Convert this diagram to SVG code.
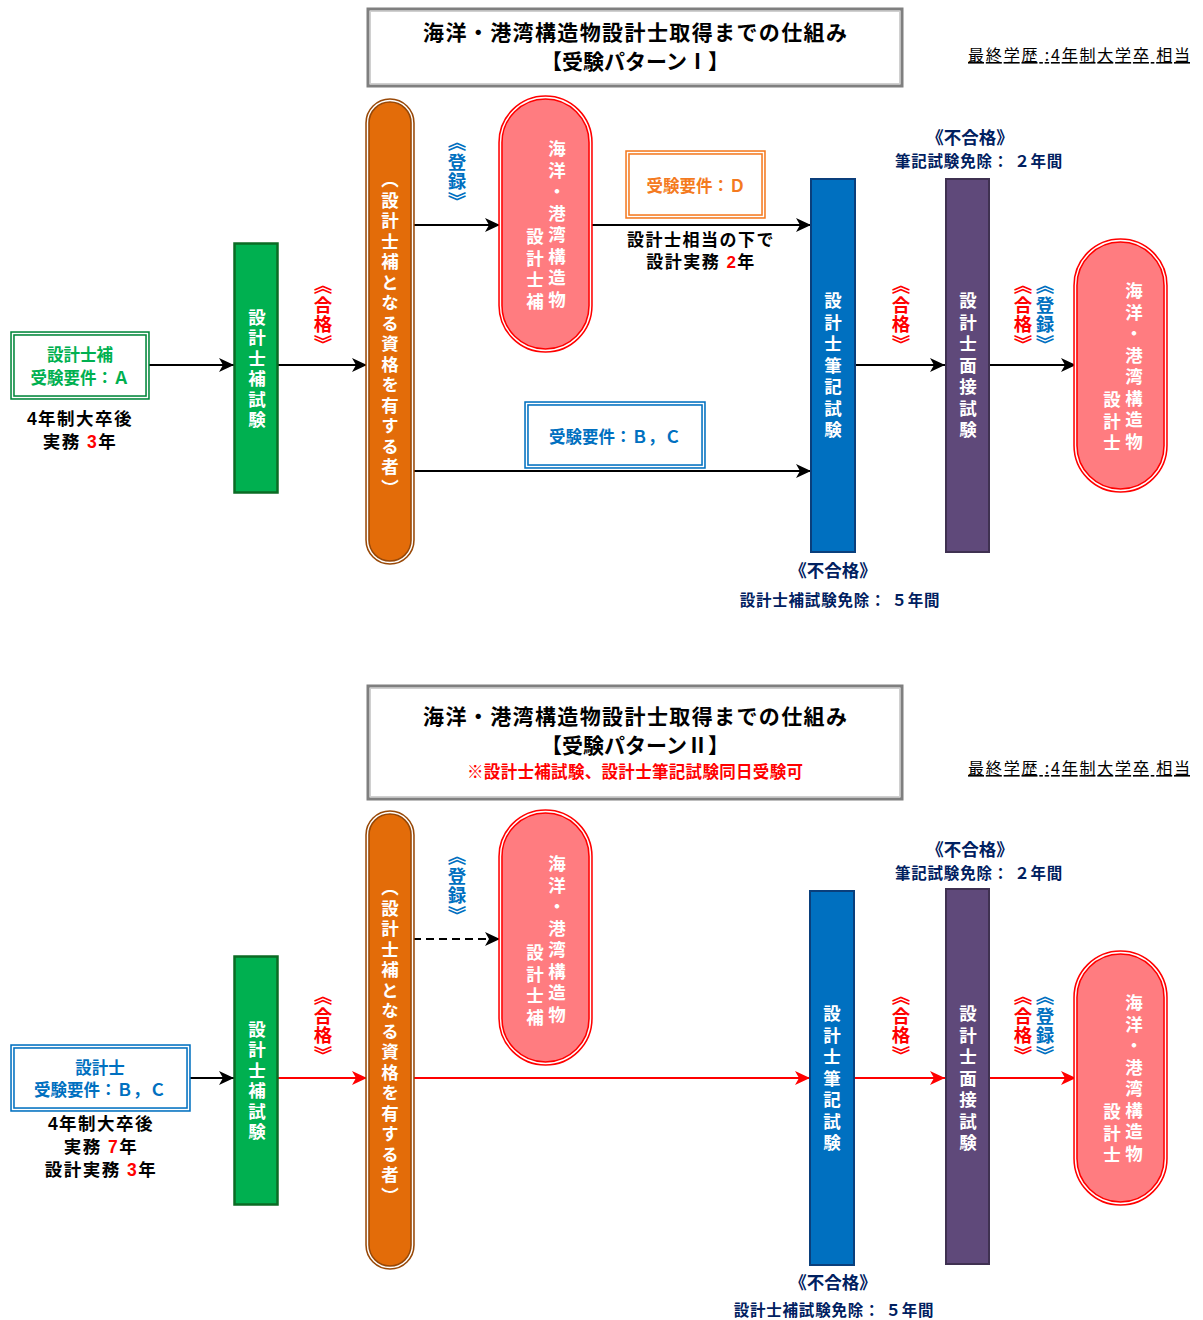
<svg xmlns="http://www.w3.org/2000/svg" width="1203" height="1320" viewBox="0 0 1203 1320">
<style>
text { font-family: "Liberation Sans", "Noto Sans CJK JP", sans-serif; font-weight: bold; }
.v { writing-mode: vertical-rl; text-anchor: middle; font-family: "Noto Sans CJK JP", sans-serif; }
.c { text-anchor: middle; }
.w { fill: #FFFFFF; }
.red { fill: #FF0000; }
.blue { fill: #0070C0; }
.navy { fill: #002060; }
.blk { fill: #000000; }
.ttl { font-size: 21px; fill: #000; text-anchor: middle; font-family: "Noto Sans CJK JP", sans-serif; }
.edu { font-size: 16px; font-weight: normal; fill: #000; text-decoration: underline; font-family: "Noto Sans CJK JP", sans-serif; }
.ln { stroke: #000; stroke-width: 2; fill: none; }
.lnr { stroke: #FF0000; stroke-width: 2; fill: none; }
.gap { fill: none; stroke: #FFFFFF; stroke-width: 1.4; }
</style>
<defs>
<marker id="ab" markerUnits="userSpaceOnUse" markerWidth="16" markerHeight="14" refX="15" refY="7" orient="auto"><path d="M0,0 L15,7 L0,14 L4,7 Z" fill="#000"/></marker>
<marker id="ar" markerUnits="userSpaceOnUse" markerWidth="16" markerHeight="14" refX="15" refY="7" orient="auto"><path d="M0,0 L15,7 L0,14 L4,7 Z" fill="#FF0000"/></marker>
</defs>
<rect width="1203" height="1320" fill="#FFFFFF"/>

<!-- ===== connectors ===== -->
<g id="connectors">
<line class="ln" x1="148" y1="365" x2="234" y2="365" marker-end="url(#ab)"/>
<line class="ln" x1="278" y1="365" x2="367" y2="365" marker-end="url(#ab)"/>
<line class="ln" x1="413" y1="225" x2="500" y2="225" marker-end="url(#ab)"/>
<line class="ln" x1="591" y1="225" x2="811" y2="225" marker-end="url(#ab)"/>
<line class="ln" x1="413" y1="471" x2="811" y2="471" marker-end="url(#ab)"/>
<line class="ln" x1="855" y1="365" x2="945" y2="365" marker-end="url(#ab)"/>
<line class="ln" x1="989" y1="365" x2="1076" y2="365" marker-end="url(#ab)"/>

<line class="ln" x1="189" y1="1078" x2="234" y2="1078" marker-end="url(#ab)"/>
<line class="lnr" x1="278" y1="1078" x2="367" y2="1078" marker-end="url(#ar)"/>
<line class="ln" x1="413" y1="939" x2="500" y2="939" stroke-dasharray="8,5" marker-end="url(#ab)"/>
<line class="lnr" x1="413" y1="1078" x2="810" y2="1078" marker-end="url(#ar)"/>
<line class="lnr" x1="854" y1="1078" x2="945" y2="1078" marker-end="url(#ar)"/>
<line class="lnr" x1="989" y1="1078" x2="1076" y2="1078" marker-end="url(#ar)"/>
</g>

<!-- ===== Pattern I ===== -->
<g id="title1">
<rect x="368" y="9" width="534" height="77" fill="#FFFFFF" stroke="#7F7F7F" stroke-width="3"/>
<rect x="370.5" y="11.5" width="529" height="72" fill="none" stroke="#D0D0D0" stroke-width="1"/>
<text class="ttl" x="635" y="40" textLength="424" lengthAdjust="spacing">海洋・港湾構造物設計士取得までの仕組み</text>
<text class="ttl" x="635" y="69">【受験パターンⅠ】</text>
</g>
<g id="edu1"><text class="edu" x="968" y="61" textLength="222" lengthAdjust="spacing">最終学歴 :4年制大学卒 相当</text></g>

<g id="reqA">
<rect x="12.5" y="333.5" width="135" height="64" fill="#FFFFFF" stroke="#00863A" stroke-width="4.5"/>
<rect x="12.5" y="333.5" width="135" height="64" class="gap"/>
<text class="c" x="80" y="361" style="font-size:16.5px;fill:#00B050">設計士補</text>
<text class="c" x="80" y="384" style="font-size:16.5px;fill:#00B050">受験要件：Ａ</text>
<text class="c blk" x="80" y="425" style="font-size:17.5px;letter-spacing:1.5px">4年制大卒後</text>
<text class="c blk" x="80" y="448" style="font-size:17.5px;letter-spacing:1.5px">実務 <tspan class="red">3</tspan>年</text>
</g>

<g id="exam_ho1">
<rect x="234.5" y="243.5" width="43" height="249" fill="#00B050" stroke="#0B6B24" stroke-width="2.5"/>
<text class="v w" x="257" y="370" style="font-size:17.5px;letter-spacing:3px">設計士補試験</text>
</g>
<g id="pass1a"><text class="v red" x="323" y="315" style="font-size:18.5px;letter-spacing:1px">《合格》</text></g>

<g id="qual1">
<rect x="367.5" y="100.5" width="45" height="462" rx="22.5" fill="#E36C09" stroke="#984807" stroke-width="4.5"/>
<rect x="367.5" y="100.5" width="45" height="462" rx="22.5" class="gap"/>
<text class="v w" x="390" y="335" style="font-size:17.5px;letter-spacing:3px">（設計士補となる資格を有する者）</text>
</g>
<g id="reg1a"><text class="v blue" x="457" y="172" style="font-size:18.5px;letter-spacing:1px">《登録》</text></g>

<g id="designer_ho1">
<rect x="500.5" y="97.5" width="90" height="253" rx="45" fill="#FF7C80" stroke="#FF0000" stroke-width="4.5"/>
<rect x="500.5" y="97.5" width="90" height="253" rx="45" class="gap"/>
<text class="v w" x="557" y="226" style="font-size:17.5px;letter-spacing:4px">海洋・港湾構造物</text>
<text class="v w" x="535" y="271" style="font-size:17.5px;letter-spacing:4px">設計士補</text>
</g>

<g id="reqD">
<rect x="627.5" y="152.5" width="136" height="64" fill="#FFFFFF" stroke="#F47A20" stroke-width="4.5"/>
<rect x="627.5" y="152.5" width="136" height="64" class="gap"/>
<text class="c" x="696" y="192" style="font-size:16.5px;fill:#F47A20">受験要件：Ｄ</text>
<text class="c blk" x="701" y="246" style="font-size:17px;letter-spacing:1.5px">設計士相当の下で</text>
<text class="c blk" x="701" y="268" style="font-size:17px;letter-spacing:1.5px">設計実務 <tspan class="red">2</tspan>年</text>
</g>

<g id="reqBC1">
<rect x="526.5" y="403.5" width="177" height="63" fill="#FFFFFF" stroke="#0070C0" stroke-width="4.5"/>
<rect x="526.5" y="403.5" width="177" height="63" class="gap"/>
<text class="c blue" x="615" y="443" style="font-size:16.5px">受験要件：Ｂ，Ｃ</text>
</g>

<g id="written1">
<rect x="811" y="179" width="44" height="373" fill="#0070C0" stroke="#0A3F7C" stroke-width="2"/>
<text class="v w" x="833" y="367" style="font-size:17.5px;letter-spacing:4px">設計士筆記試験</text>
<text class="c navy" x="833" y="577" style="font-size:17.5px">《不合格》</text>
<text class="c navy" x="840" y="606" style="font-size:15.5px;letter-spacing:0.8px">設計士補試験免除： ５年間</text>
</g>
<g id="pass1b"><text class="v red" x="901" y="315" style="font-size:18.5px;letter-spacing:1px">《合格》</text></g>

<g id="interview1">
<rect x="946" y="179" width="43" height="373" fill="#5F497A" stroke="#3F3151" stroke-width="2"/>
<text class="v w" x="968" y="367" style="font-size:17.5px;letter-spacing:4px">設計士面接試験</text>
<text class="c navy" x="970" y="144" style="font-size:17.5px">《不合格》</text>
<text class="c navy" x="979" y="167" style="font-size:15.5px;letter-spacing:0.8px">筆記試験免除： ２年間</text>
</g>
<g id="pass1c"><text class="v red" x="1023" y="315" style="font-size:18.5px;letter-spacing:1px">《合格》</text></g>
<g id="reg1b"><text class="v blue" x="1045" y="315" style="font-size:18.5px;letter-spacing:1px">《登録》</text></g>

<g id="designer1">
<rect x="1075.5" y="240.5" width="90" height="250" rx="45" fill="#FF7C80" stroke="#FF0000" stroke-width="4.5"/>
<rect x="1075.5" y="240.5" width="90" height="250" rx="45" class="gap"/>
<text class="v w" x="1134" y="368" style="font-size:17.5px;letter-spacing:4px">海洋・港湾構造物</text>
<text class="v w" x="1112" y="423" style="font-size:17.5px;letter-spacing:4px">設計士</text>
</g>

<!-- ===== Pattern II ===== -->
<g id="title2">
<rect x="368" y="686" width="534" height="113" fill="#FFFFFF" stroke="#7F7F7F" stroke-width="3"/>
<rect x="370.5" y="688.5" width="529" height="108" fill="none" stroke="#D0D0D0" stroke-width="1"/>
<text class="ttl" x="635" y="724" textLength="424" lengthAdjust="spacing">海洋・港湾構造物設計士取得までの仕組み</text>
<text class="ttl" x="635" y="753">【受験パターンⅡ】</text>
<text class="c red" x="635" y="778" style="font-size:16.5px;font-family:'Noto Sans CJK JP',sans-serif" textLength="336" lengthAdjust="spacing">※設計士補試験、設計士筆記試験同日受験可</text>
</g>
<g id="edu2"><text class="edu" x="968" y="774" textLength="222" lengthAdjust="spacing">最終学歴 :4年制大学卒 相当</text></g>

<g id="reqBC2">
<rect x="12.5" y="1046.5" width="176" height="63" fill="#FFFFFF" stroke="#0070C0" stroke-width="4.5"/>
<rect x="12.5" y="1046.5" width="176" height="63" class="gap"/>
<text class="c blue" x="100" y="1074" style="font-size:16.5px">設計士</text>
<text class="c blue" x="100" y="1096" style="font-size:16.5px">受験要件：Ｂ，Ｃ</text>
<text class="c blk" x="101" y="1130" style="font-size:17.5px;letter-spacing:1.5px">4年制大卒後</text>
<text class="c blk" x="101" y="1153" style="font-size:17.5px;letter-spacing:1.5px">実務 <tspan class="red">7</tspan>年</text>
<text class="c blk" x="101" y="1176" style="font-size:17.5px;letter-spacing:1.5px">設計実務 <tspan class="red">3</tspan>年</text>
</g>

<g id="exam_ho2">
<rect x="234.5" y="956.5" width="43" height="248" fill="#00B050" stroke="#0B6B24" stroke-width="2.5"/>
<text class="v w" x="257" y="1082" style="font-size:17.5px;letter-spacing:3px">設計士補試験</text>
</g>
<g id="pass2a"><text class="v red" x="323" y="1026" style="font-size:18.5px;letter-spacing:1px">《合格》</text></g>

<g id="qual2">
<rect x="367.5" y="812.5" width="45" height="455" rx="22.5" fill="#E36C09" stroke="#984807" stroke-width="4.5"/>
<rect x="367.5" y="812.5" width="45" height="455" rx="22.5" class="gap"/>
<text class="v w" x="390" y="1043" style="font-size:17.5px;letter-spacing:3px">（設計士補となる資格を有する者）</text>
</g>
<g id="reg2a"><text class="v blue" x="457" y="886" style="font-size:18.5px;letter-spacing:1px">《登録》</text></g>

<g id="designer_ho2">
<rect x="500.5" y="811.5" width="90" height="252" rx="45" fill="#FF7C80" stroke="#FF0000" stroke-width="4.5"/>
<rect x="500.5" y="811.5" width="90" height="252" rx="45" class="gap"/>
<text class="v w" x="557" y="941" style="font-size:17.5px;letter-spacing:4px">海洋・港湾構造物</text>
<text class="v w" x="535" y="987" style="font-size:17.5px;letter-spacing:4px">設計士補</text>
</g>

<g id="written2">
<rect x="810" y="891" width="44" height="374" fill="#0070C0" stroke="#0A3F7C" stroke-width="2"/>
<text class="v w" x="832" y="1080" style="font-size:17.5px;letter-spacing:4px">設計士筆記試験</text>
<text class="c navy" x="833" y="1289" style="font-size:17.5px">《不合格》</text>
<text class="c navy" x="834" y="1316" style="font-size:15.5px;letter-spacing:0.8px">設計士補試験免除： ５年間</text>
</g>
<g id="pass2b"><text class="v red" x="901" y="1026" style="font-size:18.5px;letter-spacing:1px">《合格》</text></g>

<g id="interview2">
<rect x="946" y="889" width="43" height="375" fill="#5F497A" stroke="#3F3151" stroke-width="2"/>
<text class="v w" x="968" y="1080" style="font-size:17.5px;letter-spacing:4px">設計士面接試験</text>
<text class="c navy" x="970" y="856" style="font-size:17.5px">《不合格》</text>
<text class="c navy" x="979" y="879" style="font-size:15.5px;letter-spacing:0.8px">筆記試験免除： ２年間</text>
</g>
<g id="pass2c"><text class="v red" x="1023" y="1026" style="font-size:18.5px;letter-spacing:1px">《合格》</text></g>
<g id="reg2b"><text class="v blue" x="1045" y="1026" style="font-size:18.5px;letter-spacing:1px">《登録》</text></g>

<g id="designer2">
<rect x="1075.5" y="952.5" width="90" height="251" rx="45" fill="#FF7C80" stroke="#FF0000" stroke-width="4.5"/>
<rect x="1075.5" y="952.5" width="90" height="251" rx="45" class="gap"/>
<text class="v w" x="1134" y="1080" style="font-size:17.5px;letter-spacing:4px">海洋・港湾構造物</text>
<text class="v w" x="1112" y="1135" style="font-size:17.5px;letter-spacing:4px">設計士</text>
</g>
</svg>
